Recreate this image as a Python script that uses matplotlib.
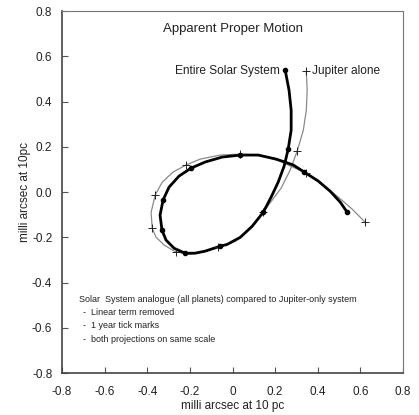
import matplotlib.pyplot as plt
import numpy as np

plt.rcParams['font.family'] = ['Liberation Sans', 'DejaVu Sans']

# Entire Solar System path (milli arcsec), traced from start (top) to end (right)
solar_x = [0.247, 0.265, 0.275, 0.275, 0.261, 0.242, 0.214, 0.181, 0.144, 0.092,
           0.036, -0.025, -0.058, -0.129, -0.176, -0.223, -0.274, -0.312, -0.331, -0.340,
           -0.326, -0.298, -0.251, -0.195, -0.129, -0.049, 0.036, 0.120, 0.205, 0.285,
           0.336, 0.402, 0.458, 0.505, 0.538]
solar_y = [0.539, 0.451, 0.362, 0.274, 0.190, 0.115, 0.044, -0.022, -0.089, -0.151,
           -0.200, -0.231, -0.239, -0.261, -0.270, -0.270, -0.248, -0.212, -0.168, -0.102,
           -0.035, 0.022, 0.071, 0.106, 0.133, 0.155, 0.164, 0.164, 0.146, 0.120,
           0.089, 0.049, 0.004, -0.044, -0.089]
solar_ticks = [0, 4, 8, 12, 15, 18, 20, 23, 26, 30, 34]

# Jupiter-only path
jup_x = [0.346, 0.350, 0.346, 0.332, 0.303, 0.270, 0.228, 0.186, 0.144, 0.083,
         0.013, -0.067, -0.128, -0.199, -0.265, -0.321, -0.359, -0.377, -0.382, -0.363,
         -0.330, -0.279, -0.218, -0.152, -0.058, 0.036, 0.130, 0.223, 0.345, 0.420,
         0.491, 0.561, 0.622]
jup_y = [0.535, 0.451, 0.362, 0.274, 0.181, 0.097, 0.018, -0.035, -0.089, -0.159,
         -0.217, -0.243, -0.261, -0.274, -0.265, -0.234, -0.199, -0.159, -0.089, -0.013,
         0.044, 0.089, 0.120, 0.146, 0.164, 0.168, 0.164, 0.137, 0.084, 0.036,
         -0.018, -0.075, -0.133]
jup_ticks = [0, 4, 8, 11, 14, 17, 19, 22, 25, 28, 32]

xticks = [-0.8, -0.6, -0.4, -0.2, 0, 0.2, 0.4, 0.6, 0.8]
xtick_labels = ['-0.8', '-0.6', '-0.4', '-0.2', '0', '0.2', '0.4', '0.6', '0.8']
yticks = [-0.8, -0.6, -0.4, -0.2, 0.0, 0.2, 0.4, 0.6, 0.8]
ytick_labels = ['-0.8', '-0.6', '-0.4', '-0.2', '0.0', '0.2', '0.4', '0.6', '0.8']

note_lines = ['Solar  System analogue (all planets) compared to Jupiter-only system',
              '-  Linear term removed',
              '-  1 year tick marks',
              '-  both projections on same scale']

fig = plt.figure(figsize=(4.19, 4.15), dpi=100)
ax = fig.add_axes([0.148, 0.101, 0.814, 0.872])

sx = np.array(solar_x)
sy = np.array(solar_y)
jx = np.array(jup_x)
jy = np.array(jup_y)

ax.plot(jx, jy, '-', color='#8a8a8a', lw=0.9, zorder=2)
ax.plot(jx[jup_ticks], jy[jup_ticks], '+', color='#222222', ms=6, mew=0.7, zorder=4)
ax.plot(sx, sy, '-', color='black', lw=2.0, zorder=3)
ax.plot(sx[solar_ticks], sy[solar_ticks], 'o', color='black', ms=3, zorder=5)

ax.set_xlim(-0.8, 0.8)
ax.set_ylim(-0.8, 0.8)
ax.set_xticks(xticks)
ax.set_xticklabels(xtick_labels)
ax.set_yticks(yticks)
ax.set_yticklabels(ytick_labels)
ax.tick_params(direction='in', length=4, width=0.8, colors='#555555', labelcolor='#222222',
               labelsize=8.5)
ax.tick_params(axis='x', pad=9)
ax.tick_params(axis='y', pad=7)
for s in ax.spines.values():
    s.set_color('#777777')
    s.set_linewidth(0.8)
for s in ['left', 'bottom']:
    ax.spines[s].set_color('#444444')
    ax.spines[s].set_linewidth(1.2)

ax.set_xlabel('milli arcsec at 10 pc', fontsize=8.5, color='#222222', labelpad=2)
ax.set_ylabel('milli arcsec at 10pc', fontsize=8.5, color='#222222', labelpad=1)

ax.text(0.0, 0.72, 'Apparent Proper Motion', ha='center', va='center', fontsize=9.5, color='#222222')
ax.text(0.222, 0.535, 'Entire Solar System', ha='right', va='center', fontsize=8.6, color='#222222')
ax.text(0.372, 0.535, 'Jupiter alone', ha='left', va='center', fontsize=8.6, color='#222222')

ax.text(-0.72, -0.473, note_lines[0], ha='left', va='center', fontsize=6.5, color='#222222')
for i, line in enumerate(note_lines[1:]):
    ax.text(-0.70, -0.530 - i * 0.060, line, ha='left', va='center', fontsize=6.5, color='#222222')

fig.savefig('out.png', dpi=100)
